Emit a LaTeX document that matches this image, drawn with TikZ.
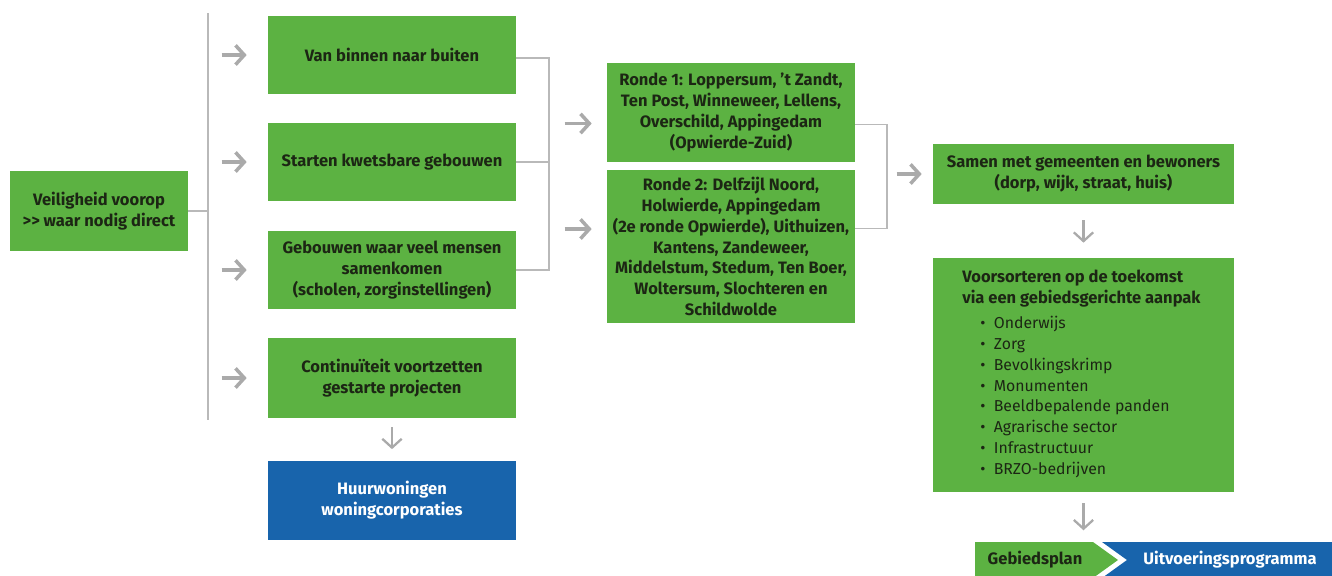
\documentclass[tikz,border=0pt]{standalone}
\usepackage{fontspec}
\setmainfont{Fira Sans}
\usetikzlibrary{arrows.meta}
\definecolor{boxgreen}{RGB}{92,178,66}
\definecolor{boxblue}{RGB}{24,100,172}
\definecolor{txtdark}{RGB}{28,38,20}
\definecolor{arrgray}{RGB}{170,170,170}
\definecolor{linegray}{RGB}{185,185,185}

\begin{document}
\begin{tikzpicture}[x=0.02cm,y=-0.02cm]
\tikzstyle{every node}+=[font=\fontsize{9}{11.9}\selectfont]
\tikzstyle{gbox}=[fill=boxgreen, text=txtdark, font=\fontsize{9.4}{11.9}\selectfont\bfseries, align=center, inner sep=0pt]
\tikzstyle{bbox}=[gbox, fill=boxblue, text=white]
\tikzstyle{bline}=[linegray, line width=1pt]
\tikzstyle{garrow}=[arrgray, line width=2pt, -{Straight Barb[length=5pt,width=11pt]}]
\tikzstyle{darrow}=[arrgray, line width=1.3pt, -{Straight Barb[length=5pt,width=11pt]}]
\useasboundingbox (0,0) rectangle (1332,575);
\draw (99,211) node [gbox, minimum width=3.56cm, minimum height=1.6cm] (veil) {Veiligheid voorop\\>{}> waar nodig direct};
\draw (392,55) node [gbox, minimum width=4.96cm, minimum height=1.58cm] (van) {Van binnen naar buiten};
\draw (392,162) node [gbox, minimum width=4.96cm, minimum height=1.58cm] (start) {Starten kwetsbare gebouwen};
\draw (392,270) node [gbox, minimum width=4.96cm, minimum height=1.56cm] (geb) {Gebouwen waar veel mensen\\samenkomen\\(scholen, zorginstellingen)};
\draw (392,378) node [gbox, minimum width=4.96cm, minimum height=1.6cm] (cont) {Continuïteit voortzetten\\gestarte projecten};
\draw (392,500) node [bbox, minimum width=4.96cm, minimum height=1.58cm] (huur) {Huurwoningen\\woningcorporaties};
\draw (731,112.5) node [gbox, minimum width=4.96cm, minimum height=1.98cm] (ronde1) {Ronde 1: Loppersum, 't Zandt,\\Ten Post, Winneweer, Lellens,\\Overschild, Appingedam\\(Opwierde-Zuid)};
\draw (731,246.5) node [gbox, minimum width=4.96cm, minimum height=3.06cm] (ronde2) {Ronde 2: Delfzijl Noord,\\Holwierde, Appingedam\\(2e ronde Opwierde), Uithuizen,\\Kantens, Zandeweer,\\Middelstum, Stedum, Ten Boer,\\Woltersum, Slochteren en\\Schildwolde};
\draw (1083.5,174) node [gbox, minimum width=6.02cm, minimum height=1.2cm] (samen) {Samen met gemeenten en bewoners\\(dorp, wijk, straat, huis)};
\draw (1083.5,375) node [gbox, minimum width=6.02cm, minimum height=4.68cm] (voor) {};
\draw (962,289) node [anchor=west, inner sep=0pt, text=txtdark, font=\fontsize{9.4}{11.9}\selectfont\bfseries, align=left] (voortitle) {Voorsorteren op de toekomst\\via een gebiedsgerichte aanpak};
\draw (980,397) node [anchor=west, inner sep=0pt, text=txtdark, align=left] (voorlist) {%
\textbullet\ \ Onderwijs\\ \textbullet\ \ Zorg\\ \textbullet\ \ Bevolkingskrimp\\ \textbullet\ \ Monumenten\\
\textbullet\ \ Beeldbepalende panden\\ \textbullet\ \ Agrarische sector\\ \textbullet\ \ Infrastructuur\\ \textbullet\ \ BRZO-bedrijven};
\fill [boxgreen] (975,542) -- (1093,542) -- (1118,560) -- (1093,578) -- (975,578) -- cycle;
\fill [boxblue] (1102,542) -- (1332,542) -- (1332,578) -- (1102,578) -- (1127,560) -- cycle;
\draw (1035,560) node [text=txtdark, font=\fontsize{9.4}{11.9}\selectfont\bfseries] (gplan) {Gebiedsplan};
\draw (1230,560) node [text=white, font=\fontsize{9.4}{11.9}\selectfont\bfseries] (uprog) {Uitvoeringsprogramma};
\coordinate (spinetop) at (208,13);
\coordinate (spinebot) at (208,420);
\draw [bline] (spinetop) -- (spinebot);
\draw [bline] (veil.east) -- (veil.east -| spinetop);
\draw [bline] ([yshift=-0.06cm]van.east) -- ++(33,0) |- (geb.east);
\draw [bline] (start.east) -- ++(33,0);
\draw [bline] ([yshift=-0.24cm]ronde1.east) -- ++(32,0) |- ([yshift=0.36cm]ronde2.east);
\draw [garrow] ([xshift=-0.92cm]van.west) -- ([xshift=-0.42cm]van.west);
\draw [garrow] ([xshift=-0.92cm]start.west) -- ([xshift=-0.42cm]start.west);
\draw [garrow] ([xshift=-0.92cm]geb.west) -- ([xshift=-0.42cm]geb.west);
\draw [garrow] ([xshift=-0.92cm]cont.west) -- ([xshift=-0.42cm]cont.west);
\draw [garrow] ([xshift=-0.84cm,yshift=-0.22cm]ronde1.west) -- ([xshift=-0.3cm,yshift=-0.22cm]ronde1.west);
\draw [garrow] ([xshift=-0.84cm,yshift=0.35cm]ronde2.west) -- ([xshift=-0.3cm,yshift=0.35cm]ronde2.west);
\draw [garrow] ([xshift=-0.72cm]samen.west) -- ([xshift=-0.22cm]samen.west);
\draw [darrow] ([yshift=-0.18cm]cont.south) -- ([yshift=0.22cm]huur.north);
\draw [darrow] ([yshift=-0.32cm]samen.south) -- ([yshift=0.3cm]voor.north);
\draw [darrow] ([yshift=-0.22cm]voor.south) -- ([yshift=0.3cm]gplan.north -| voor.south);
\end{tikzpicture}
\end{document}
